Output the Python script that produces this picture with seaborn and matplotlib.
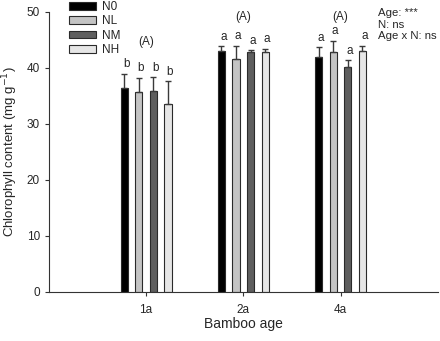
import numpy as np
import pandas as pd
import seaborn as sns
import matplotlib
matplotlib.use('Agg')
import matplotlib.pyplot as plt

ages = ['1a', '2a', '4a']
treatments = ['N0', 'NL', 'NM', 'NH']
chl_mean = {'N0': [36.3, 43.0, 41.9],
            'NL': [35.6, 41.5, 42.7],
            'NM': [35.9, 42.7, 40.1],
            'NH': [33.5, 42.8, 42.9]}
chl_err = {'N0': [2.6, 0.8, 1.7],
           'NL': [2.6, 2.4, 2.1],
           'NM': [2.4, 0.4, 1.2],
           'NH': [4.1, 0.6, 1.0]}
letters = {'N0': ['b', 'a', 'a'],
           'NL': ['b', 'a', 'a'],
           'NM': ['b', 'a', 'a'],
           'NH': ['b', 'a', 'a']}
group_letters = ['(A)', '(A)', '(A)']
group_letter_y = [44.6, 49.1, 49.1]
stats_text = 'Age: ***\nN: ns\nAge x N: ns'

colors = ['#000000', '#c4c4c4', '#5e5e5e', '#e6e6e6']

rows = []
for t in treatments:
    for i, a in enumerate(ages):
        rows.append({'age': a, 'N': t, 'chl': chl_mean[t][i], 'err': chl_err[t][i]})
df = pd.DataFrame(rows)

sns.set_style('ticks')
plt.rcParams['font.family'] = ['Liberation Sans', 'DejaVu Sans']

fig = plt.figure(figsize=(4.4, 3.41), dpi=100)
ax = fig.add_axes([0.111, 0.145, 0.884, 0.821])

sns.barplot(data=df, x='age', y='chl', hue='N', order=ages, hue_order=treatments,
            palette=colors, width=0.6, gap=0.5, errorbar=None,
            edgecolor='#2a2a2a', linewidth=0.8, ax=ax, legend=True)

for cont, t in zip(ax.containers, treatments):
    xs = [b.get_x() + b.get_width() / 2 for b in cont]
    m = np.array(chl_mean[t])
    e = np.array(chl_err[t])
    ax.errorbar(xs, m, yerr=[np.zeros_like(e), e], fmt='none', ecolor='#3a3a3a',
                elinewidth=1, capsize=2.5, capthick=1)
    for x, mm, ee, lab in zip(xs, m, e, letters[t]):
        ax.text(x + 0.02, mm + ee + 0.6, lab, ha='center', va='bottom', fontsize=8.5)

for i, (g, gy) in enumerate(zip(group_letters, group_letter_y)):
    ax.text(i, gy, g, ha='center', va='center', fontsize=8.5)

ax.set_xlim(-1, 3)
ax.set_ylim(0, 50)
ax.set_yticks([0, 10, 20, 30, 40, 50])
ax.tick_params(axis='both', labelsize=8.5, length=3, width=0.8, color='#333333')
ax.tick_params(axis='x', pad=6)
ax.set_xlabel('Bamboo age', fontsize=10, labelpad=1)
ax.set_ylabel('Chlorophyll content (mg g$^{-1}$)', fontsize=9.5, labelpad=5)
sns.despine(ax=ax)
for s in ['left', 'bottom']:
    ax.spines[s].set_linewidth(0.8)
    ax.spines[s].set_color('#333333')

handles, labels = ax.get_legend_handles_labels()
ax.legend(handles, labels, loc='upper left', bbox_to_anchor=(0.157, 0.997),
          bbox_transform=fig.transFigure, frameon=False, fontsize=8.5,
          handlelength=2.3, handleheight=0.6, labelspacing=0.2, handletextpad=0.5,
          borderaxespad=0, borderpad=0)

fig.text(0.858, 0.976, stats_text, ha='left', va='top', fontsize=8.2, linespacing=1.2)

fig.savefig('out.png', dpi=100)
